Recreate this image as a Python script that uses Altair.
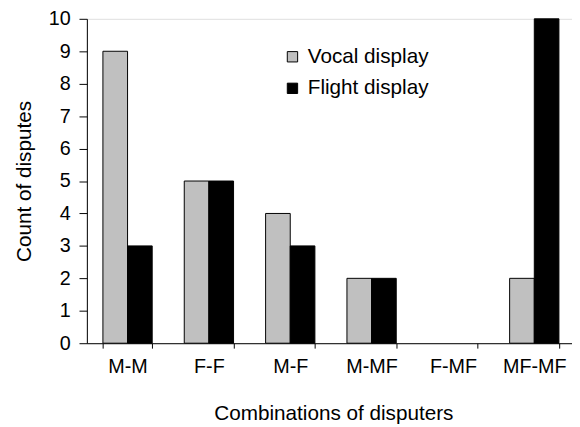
import altair as alt
import pandas as pd

categories = ["M-M", "F-F", "M-F", "M-MF", "F-MF", "MF-MF"]
vocal = [9, 5, 4, 2, 0, 2]
flight = [3, 5, 3, 2, 0, 10]
series = ["Vocal display", "Flight display"]

rows = []
for c, v, f in zip(categories, vocal, flight):
    rows.append({"combo": c, "display": series[0], "count": v})
    rows.append({"combo": c, "display": series[1], "count": f})
df = pd.DataFrame(rows)

FONT = "Liberation Sans"

chart = alt.Chart(df).mark_bar(stroke="black", strokeWidth=1).encode(
    x=alt.X("combo:N", sort=categories,
            title="Combinations of disputers",
            scale=alt.Scale(domain=categories, range=[0, 495], paddingInner=0.394, paddingOuter=0.197),
            axis=alt.Axis(labelAngle=0, tickBand="extent", tickSize=5,
                          labelFontSize=20, titleFontSize=21, labelPadding=9,
                          titlePadding=26, domainColor="black", tickColor="black",
                          labelColor="black", titleColor="black", titleX=250,
                          labelFont=FONT, titleFont=FONT, titleFontWeight="normal")),
    xOffset=alt.XOffset("display:N", sort=series, scale=alt.Scale(domain=series)),
    y=alt.Y("count:Q", title="Count of disputes",
            scale=alt.Scale(domain=[0, 10], nice=False),
            axis=alt.Axis(values=list(range(0, 11)), tickSize=8, grid=False,
                          labelFontSize=20, titleFontSize=21, labelPadding=9,
                          titlePadding=14, domainColor="black", tickColor="black",
                          labelColor="black", titleColor="black",
                          labelFont=FONT, titleFont=FONT, titleFontWeight="normal")),
    color=alt.Color("display:N", sort=series,
                    scale=alt.Scale(domain=series, range=["#c0c0c0", "#000000"]),
                    legend=alt.Legend(title=None, orient="none", legendX=198, legendY=28,
                                      symbolType="square", symbolSize=110,
                                      symbolStrokeColor="black", symbolStrokeWidth=1,
                                      labelFontSize=21, labelFont=FONT, labelColor="black",
                                      rowPadding=10, padding=0, labelOffset=5)),
).transform_filter(
    alt.datum.count > 0
).properties(
    width=492, height=329,
    autosize=alt.AutoSizeParams(type="none"),
    padding={"left": 80, "top": 8, "right": 0, "bottom": 82},
).configure_view(stroke=None).configure(background="white")

chart.save("out.html", embed_options={"renderer": "svg", "actions": False})
